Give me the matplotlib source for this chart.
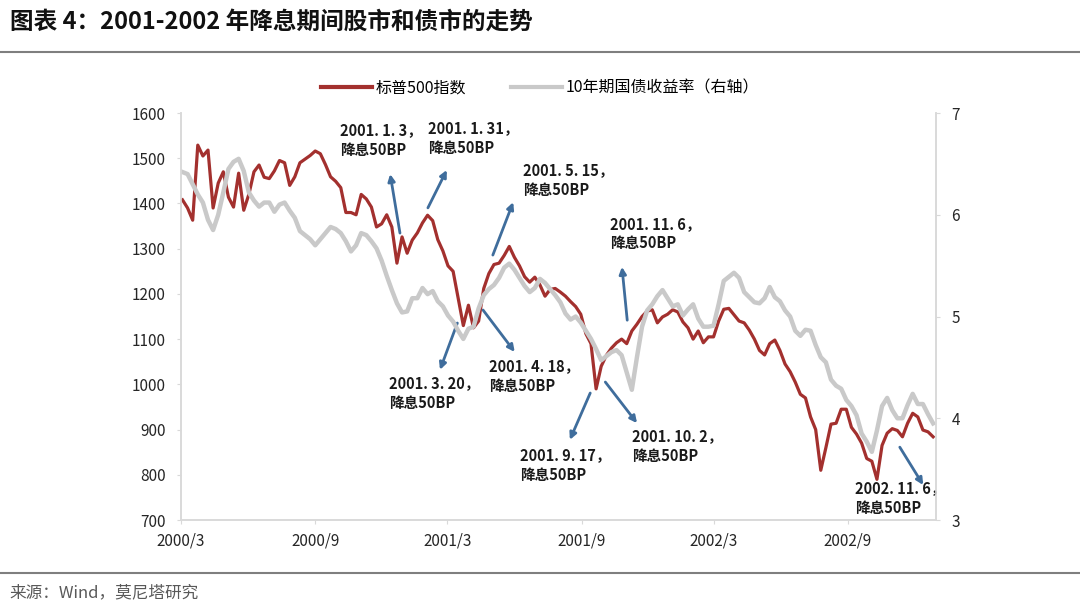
import matplotlib
matplotlib.use("Agg")
import matplotlib.pyplot as plt
import matplotlib.dates as mdates
from matplotlib.lines import Line2D
import numpy as np
import pandas as pd

plt.rcParams['font.family'] = ['Noto Sans CJK SC', 'DejaVu Sans']

# weekly observations, 2000-03-03 .. 2002-12-27
dates = pd.date_range("2000-03-03", periods=148, freq="W-FRI")

spx = [1408, 1390, 1363, 1529, 1505, 1518, 1390, 1445, 1470, 1414,
       1392, 1467, 1385, 1420, 1470, 1485, 1458, 1455, 1472, 1495,
       1490, 1440, 1459, 1490, 1498, 1506, 1516, 1510, 1486, 1459,
       1449, 1435, 1380, 1380, 1375, 1420, 1410, 1392, 1348, 1355,
       1375, 1348, 1268, 1326, 1290, 1319, 1335, 1357, 1374, 1362,
       1320, 1295, 1262, 1250, 1190, 1130, 1175, 1125, 1140, 1212,
       1245, 1265, 1268, 1285, 1305, 1281, 1262, 1238, 1226, 1237,
       1220, 1195, 1210, 1212, 1204, 1195, 1183, 1172, 1155, 1112,
       1090, 990, 1040, 1064, 1080, 1092, 1100, 1090, 1118, 1133,
       1150, 1162, 1165, 1136, 1149, 1155, 1165, 1160, 1138, 1125,
       1100, 1118, 1092, 1105, 1105, 1140, 1166, 1168, 1154, 1140,
       1136, 1120, 1100, 1075, 1065, 1090, 1098, 1075, 1045, 1028,
       1005, 978, 970, 928, 900, 810, 860, 912, 914, 945,
       945, 905, 890, 870, 836, 830, 790, 865, 892, 902,
       898, 884, 914, 936, 928, 899, 895, 884]

yield10 = [6.42, 6.40, 6.30, 6.20, 6.12, 5.95, 5.85, 6.00, 6.22, 6.45,
           6.52, 6.55, 6.43, 6.22, 6.14, 6.08, 6.12, 6.12, 6.03, 6.10,
           6.12, 6.04, 5.97, 5.84, 5.80, 5.76, 5.70, 5.76, 5.82, 5.88,
           5.86, 5.82, 5.74, 5.64, 5.70, 5.82, 5.80, 5.74, 5.67, 5.55,
           5.40, 5.26, 5.13, 5.04, 5.05, 5.18, 5.18, 5.28, 5.22, 5.25,
           5.15, 5.10, 5.01, 4.95, 4.86, 4.78, 4.88, 4.90, 5.08, 5.21,
           5.27, 5.31, 5.38, 5.48, 5.52, 5.46, 5.38, 5.30, 5.24, 5.28,
           5.37, 5.33, 5.27, 5.21, 5.14, 5.03, 4.97, 5.00, 4.94, 4.86,
           4.78, 4.68, 4.57, 4.61, 4.65, 4.67, 4.62, 4.45, 4.28, 4.60,
           4.90, 5.06, 5.12, 5.20, 5.26, 5.18, 5.10, 5.12, 5.01, 5.07,
           5.12, 4.98, 4.90, 4.90, 4.91, 5.12, 5.35, 5.39, 5.43, 5.38,
           5.24, 5.19, 5.14, 5.13, 5.18, 5.29, 5.19, 5.15, 5.06, 5.00,
           4.86, 4.81, 4.87, 4.86, 4.72, 4.60, 4.55, 4.38, 4.32, 4.29,
           4.18, 4.12, 4.03, 3.85, 3.77, 3.67, 3.88, 4.12, 4.20, 4.08,
           4.00, 4.00, 4.13, 4.24, 4.14, 4.14, 4.04, 3.95]

tick_dates = ["2000-03-01", "2000-09-01", "2001-03-01", "2001-09-01", "2002-03-01", "2002-09-01"]
tick_labels = ["2000/3", "2000/9", "2001/3", "2001/9", "2002/3", "2002/9"]

cut_labels = ["2001. 1. 3，\n降息50BP", "2001. 1. 31，\n降息50BP", "2001. 5. 15，\n降息50BP",
              "2001. 11. 6，\n降息50BP", "2001. 3. 20，\n降息50BP", "2001. 4. 18，\n降息50BP",
              "2001. 9. 17，\n降息50BP", "2001. 10. 2，\n降息50BP", "2002. 11. 6，\n降息50BP"]
# label (left, top) and arrow (tail, head) in axes fraction
label_pos = [(0.211, 0.978), (0.327, 0.983), (0.453, 0.880), (0.568, 0.748), (0.275, 0.355),
             (0.408, 0.399), (0.449, 0.178), (0.597, 0.227), (0.893, 0.097)]
arrow_tail = [(0.290, 0.705), (0.327, 0.767), (0.413, 0.651), (0.591, 0.491), (0.366, 0.484),
              (0.400, 0.516), (0.542, 0.312), (0.562, 0.339), (0.952, 0.179)]
arrow_head = [(0.277, 0.850), (0.352, 0.860), (0.440, 0.781), (0.584, 0.622), (0.343, 0.369),
              (0.442, 0.413), (0.515, 0.197), (0.604, 0.238), (0.983, 0.086)]

red = "#a3302e"
grey = "#c9c9c9"
spine_c = "#d9d9d9"
arrow_c = "#3f6d9c"

fig = plt.figure(figsize=(10.8, 6.07), dpi=100)
ax = fig.add_axes([0.1676, 0.1433, 0.6991, 0.6705])
ax2 = ax.twinx()

ax.plot(dates, spx, color=red, lw=2.3, zorder=3)
ax2.plot(dates, yield10, color=grey, lw=3.2, zorder=2)

ax.set_ylim(700, 1600)
ax.set_yticks(range(700, 1601, 100))
ax2.set_ylim(3, 7)
ax2.set_yticks([3, 4, 5, 6, 7])
ax.set_xlim(pd.Timestamp("2000-03-01"), pd.Timestamp("2002-12-31"))
ax.set_xticks(pd.to_datetime(tick_dates))
ax.set_xticklabels(tick_labels)

for a in (ax, ax2):
    for s in a.spines.values():
        s.set_color(spine_c)
        s.set_linewidth(1.2)
    a.spines["top"].set_visible(False)
    a.tick_params(colors=spine_c, labelcolor="#262626", labelsize=11, length=3)
ax.tick_params(axis="x", pad=6)
ax.tick_params(axis="y", pad=8)
ax2.tick_params(axis="y", pad=8)

for txt, (tx, ty) in zip(cut_labels, label_pos):
    ax.text(tx, ty, txt, transform=ax.transAxes, ha="left", va="top", fontsize=10.5,
            fontweight="bold", color="#1a1a1a", linespacing=1.3, zorder=6)
for (x0, y0), (x1, y1) in zip(arrow_tail, arrow_head):
    ax.annotate("", xy=(x1, y1), xytext=(x0, y0), xycoords="axes fraction",
                textcoords="axes fraction", zorder=6,
                arrowprops=dict(arrowstyle="-|>", color=arrow_c, lw=2.0,
                                mutation_scale=10, shrinkA=0, shrinkB=0))

handles = [Line2D([], [], color=red, lw=3), Line2D([], [], color=grey, lw=3)]
fig.legend(handles, ["标普500指数", "10年期国债收益率（右轴）"], loc="center",
           bbox_to_anchor=(0.5, 0.855), ncol=2, frameon=False, fontsize=11.5,
           handlelength=3.2, handletextpad=0.2, columnspacing=2.8)

fig.text(0.009, 0.965, "图表 4：2001-2002 年降息期间股市和债市的走势", fontsize=17,
         fontweight="bold", color="#111111", ha="left", va="center")
fig.text(0.009, 0.024, "来源：Wind，莫尼塔研究", fontsize=12, color="#595959",
         ha="left", va="center")
fig.add_artist(Line2D([0, 1], [1 - 52 / 607, 1 - 52 / 607], transform=fig.transFigure,
                      color="#7f7f7f", lw=1.5))
fig.add_artist(Line2D([0, 1], [1 - 573 / 607, 1 - 573 / 607], transform=fig.transFigure,
                      color="#7f7f7f", lw=1.5))

fig.savefig("out.png", dpi=100)
